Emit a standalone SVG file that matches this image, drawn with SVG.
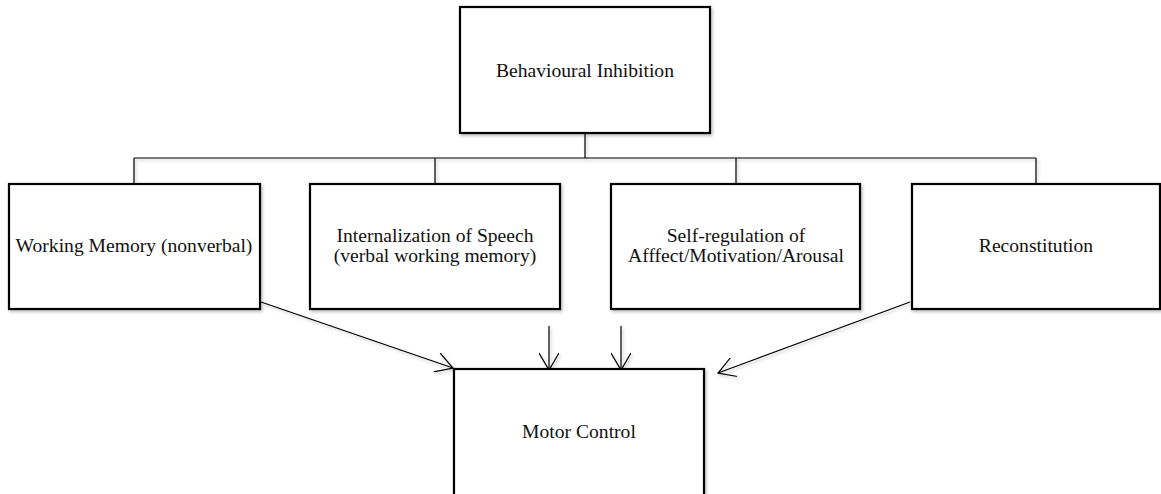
<svg xmlns="http://www.w3.org/2000/svg" width="1161" height="494" viewBox="0 0 1161 494">
<style>
.box{fill:#fff;stroke:#000;stroke-width:2.2}
.lbl{font-family:"Liberation Serif","Times New Roman",serif;font-size:19.6px;fill:#111;text-anchor:middle}
.conn{fill:none;stroke:#000;stroke-width:1.2}
</style>
<defs>
<filter id="sh" x="-5%" y="-5%" width="115%" height="120%">
<feDropShadow dx="1.5" dy="2" stdDeviation="1.5" flood-color="#000" flood-opacity="0.25"/>
</filter>
<marker id="arr" viewBox="0 0 20 20" refX="18" refY="10" markerWidth="20" markerHeight="20" markerUnits="userSpaceOnUse" orient="auto">
<path d="M1,0 L18,10 L1,20" fill="none" stroke="#000" stroke-width="1.2"/>
</marker>
</defs>
<rect width="1161" height="494" fill="#fff"/>
<g id="connectors" filter="url(#sh)">
<path class="conn" d="M585,133 V158 M134,158 H1036 M134,158 V184 M435,158 V184 M736,158 V184 M1036,158 V184"/>
<line class="conn" x1="261" y1="302" x2="453" y2="368" marker-end="url(#arr)"/>
<line class="conn" x1="549" y1="326" x2="549" y2="370" marker-end="url(#arr)"/>
<line class="conn" x1="621" y1="326" x2="621" y2="370" marker-end="url(#arr)"/>
<line class="conn" x1="910" y1="302" x2="718" y2="373" marker-end="url(#arr)"/>
</g>
<g id="behavioural-inhibition">
<rect class="box" x="460" y="7" width="250" height="126" filter="url(#sh)"/>
<text class="lbl" x="585" y="77">Behavioural Inhibition</text>
</g>
<g id="working-memory">
<rect class="box" x="9" y="184" width="251" height="125" filter="url(#sh)"/>
<text class="lbl" x="134" y="252">Working Memory (nonverbal)</text>
</g>
<g id="internalization">
<rect class="box" x="310" y="184" width="250" height="125" filter="url(#sh)"/>
<text class="lbl" x="435" y="242">Internalization of Speech</text>
<text class="lbl" x="435" y="262">(verbal working memory)</text>
</g>
<g id="self-regulation">
<rect class="box" x="611" y="184" width="249" height="125" filter="url(#sh)"/>
<text class="lbl" x="736" y="242">Self-regulation of</text>
<text class="lbl" x="736" y="262">Afffect/Motivation/Arousal</text>
</g>
<g id="reconstitution">
<rect class="box" x="912" y="184" width="248" height="125" filter="url(#sh)"/>
<text class="lbl" x="1036" y="252">Reconstitution</text>
</g>
<g id="motor-control">
<rect class="box" x="454" y="369" width="250" height="140" filter="url(#sh)"/>
<text class="lbl" x="579" y="438">Motor Control</text>
</g>
</svg>
